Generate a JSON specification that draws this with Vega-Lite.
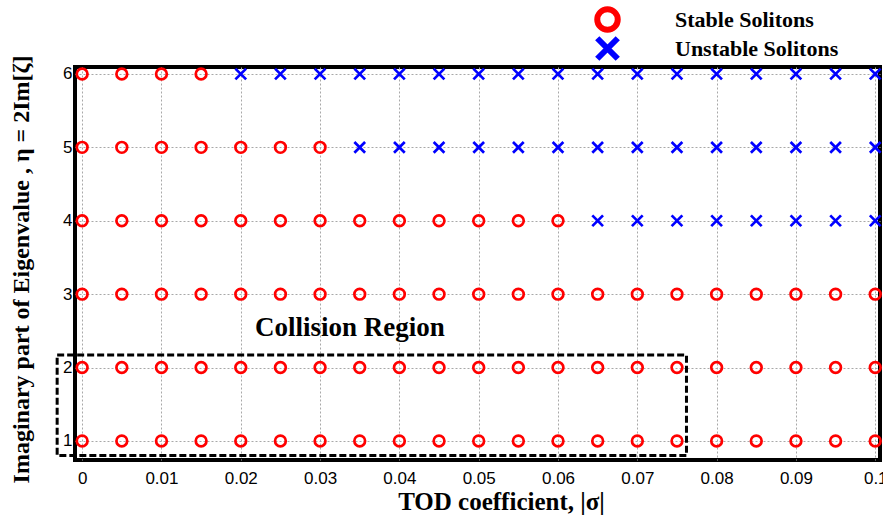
{
  "$schema": "https://vega.github.io/schema/vega-lite/v6.json",
  "width": 805,
  "height": 393,
  "autosize": {"type": "none"},
  "padding": {"left": 75, "top": 67, "right": 3, "bottom": 59},
  "background": "white",
  "config": {
    "view": {"stroke": "black", "strokeWidth": 4},
    "axis": {
      "grid": true,
      "gridDash": [2, 2],
      "gridColor": "#a8a8a8",
      "gridWidth": 1,
      "ticks": false,
      "domain": false,
      "labelFont": "Liberation Sans",
      "labelFontSize": 17,
      "labelColor": "black",
      "titleFont": "Liberation Serif",
      "titleFontWeight": "bold",
      "titleColor": "black"
    }
  },
  "layer": [
    {
      "data": {
        "values": [
          {"x": 0, "y": 6, "s": "S"}, {"x": 0.005, "y": 6, "s": "S"}, {"x": 0.01, "y": 6, "s": "S"}, {"x": 0.015, "y": 6, "s": "S"},
          {"x": 0.02, "y": 6, "s": "U"}, {"x": 0.025, "y": 6, "s": "U"}, {"x": 0.03, "y": 6, "s": "U"}, {"x": 0.035, "y": 6, "s": "U"},
          {"x": 0.04, "y": 6, "s": "U"}, {"x": 0.045, "y": 6, "s": "U"}, {"x": 0.05, "y": 6, "s": "U"}, {"x": 0.055, "y": 6, "s": "U"},
          {"x": 0.06, "y": 6, "s": "U"}, {"x": 0.065, "y": 6, "s": "U"}, {"x": 0.07, "y": 6, "s": "U"}, {"x": 0.075, "y": 6, "s": "U"},
          {"x": 0.08, "y": 6, "s": "U"}, {"x": 0.085, "y": 6, "s": "U"}, {"x": 0.09, "y": 6, "s": "U"}, {"x": 0.095, "y": 6, "s": "U"},
          {"x": 0.1, "y": 6, "s": "U"},
          {"x": 0, "y": 5, "s": "S"}, {"x": 0.005, "y": 5, "s": "S"}, {"x": 0.01, "y": 5, "s": "S"}, {"x": 0.015, "y": 5, "s": "S"},
          {"x": 0.02, "y": 5, "s": "S"}, {"x": 0.025, "y": 5, "s": "S"}, {"x": 0.03, "y": 5, "s": "S"}, {"x": 0.035, "y": 5, "s": "U"},
          {"x": 0.04, "y": 5, "s": "U"}, {"x": 0.045, "y": 5, "s": "U"}, {"x": 0.05, "y": 5, "s": "U"}, {"x": 0.055, "y": 5, "s": "U"},
          {"x": 0.06, "y": 5, "s": "U"}, {"x": 0.065, "y": 5, "s": "U"}, {"x": 0.07, "y": 5, "s": "U"}, {"x": 0.075, "y": 5, "s": "U"},
          {"x": 0.08, "y": 5, "s": "U"}, {"x": 0.085, "y": 5, "s": "U"}, {"x": 0.09, "y": 5, "s": "U"}, {"x": 0.095, "y": 5, "s": "U"},
          {"x": 0.1, "y": 5, "s": "U"},
          {"x": 0, "y": 4, "s": "S"}, {"x": 0.005, "y": 4, "s": "S"}, {"x": 0.01, "y": 4, "s": "S"}, {"x": 0.015, "y": 4, "s": "S"},
          {"x": 0.02, "y": 4, "s": "S"}, {"x": 0.025, "y": 4, "s": "S"}, {"x": 0.03, "y": 4, "s": "S"}, {"x": 0.035, "y": 4, "s": "S"},
          {"x": 0.04, "y": 4, "s": "S"}, {"x": 0.045, "y": 4, "s": "S"}, {"x": 0.05, "y": 4, "s": "S"}, {"x": 0.055, "y": 4, "s": "S"},
          {"x": 0.06, "y": 4, "s": "S"}, {"x": 0.065, "y": 4, "s": "U"}, {"x": 0.07, "y": 4, "s": "U"}, {"x": 0.075, "y": 4, "s": "U"},
          {"x": 0.08, "y": 4, "s": "U"}, {"x": 0.085, "y": 4, "s": "U"}, {"x": 0.09, "y": 4, "s": "U"}, {"x": 0.095, "y": 4, "s": "U"},
          {"x": 0.1, "y": 4, "s": "U"},
          {"x": 0, "y": 3, "s": "S"}, {"x": 0.005, "y": 3, "s": "S"}, {"x": 0.01, "y": 3, "s": "S"}, {"x": 0.015, "y": 3, "s": "S"},
          {"x": 0.02, "y": 3, "s": "S"}, {"x": 0.025, "y": 3, "s": "S"}, {"x": 0.03, "y": 3, "s": "S"}, {"x": 0.035, "y": 3, "s": "S"},
          {"x": 0.04, "y": 3, "s": "S"}, {"x": 0.045, "y": 3, "s": "S"}, {"x": 0.05, "y": 3, "s": "S"}, {"x": 0.055, "y": 3, "s": "S"},
          {"x": 0.06, "y": 3, "s": "S"}, {"x": 0.065, "y": 3, "s": "S"}, {"x": 0.07, "y": 3, "s": "S"}, {"x": 0.075, "y": 3, "s": "S"},
          {"x": 0.08, "y": 3, "s": "S"}, {"x": 0.085, "y": 3, "s": "S"}, {"x": 0.09, "y": 3, "s": "S"}, {"x": 0.095, "y": 3, "s": "S"},
          {"x": 0.1, "y": 3, "s": "S"},
          {"x": 0, "y": 2, "s": "S"}, {"x": 0.005, "y": 2, "s": "S"}, {"x": 0.01, "y": 2, "s": "S"}, {"x": 0.015, "y": 2, "s": "S"},
          {"x": 0.02, "y": 2, "s": "S"}, {"x": 0.025, "y": 2, "s": "S"}, {"x": 0.03, "y": 2, "s": "S"}, {"x": 0.035, "y": 2, "s": "S"},
          {"x": 0.04, "y": 2, "s": "S"}, {"x": 0.045, "y": 2, "s": "S"}, {"x": 0.05, "y": 2, "s": "S"}, {"x": 0.055, "y": 2, "s": "S"},
          {"x": 0.06, "y": 2, "s": "S"}, {"x": 0.065, "y": 2, "s": "S"}, {"x": 0.07, "y": 2, "s": "S"}, {"x": 0.075, "y": 2, "s": "S"},
          {"x": 0.08, "y": 2, "s": "S"}, {"x": 0.085, "y": 2, "s": "S"}, {"x": 0.09, "y": 2, "s": "S"}, {"x": 0.095, "y": 2, "s": "S"},
          {"x": 0.1, "y": 2, "s": "S"},
          {"x": 0, "y": 1, "s": "S"}, {"x": 0.005, "y": 1, "s": "S"}, {"x": 0.01, "y": 1, "s": "S"}, {"x": 0.015, "y": 1, "s": "S"},
          {"x": 0.02, "y": 1, "s": "S"}, {"x": 0.025, "y": 1, "s": "S"}, {"x": 0.03, "y": 1, "s": "S"}, {"x": 0.035, "y": 1, "s": "S"},
          {"x": 0.04, "y": 1, "s": "S"}, {"x": 0.045, "y": 1, "s": "S"}, {"x": 0.05, "y": 1, "s": "S"}, {"x": 0.055, "y": 1, "s": "S"},
          {"x": 0.06, "y": 1, "s": "S"}, {"x": 0.065, "y": 1, "s": "S"}, {"x": 0.07, "y": 1, "s": "S"}, {"x": 0.075, "y": 1, "s": "S"},
          {"x": 0.08, "y": 1, "s": "S"}, {"x": 0.085, "y": 1, "s": "S"}, {"x": 0.09, "y": 1, "s": "S"}, {"x": 0.095, "y": 1, "s": "S"},
          {"x": 0.1, "y": 1, "s": "S"}
        ]
      },
      "mark": {"type": "point", "filled": false, "strokeWidth": 2.7, "opacity": 1, "size": 115},
      "encoding": {
        "x": {
          "field": "x", "type": "quantitative",
          "scale": {"domain": [-0.0009, 0.1006], "nice": false, "zero": false},
          "axis": {
            "values": [0, 0.01, 0.02, 0.03, 0.04, 0.05, 0.06, 0.07, 0.08, 0.09, 0.1],
            "format": "~g",
            "labelPadding": 10,
            "title": "TOD coefficient, |σ|",
            "titleFontSize": 25,
            "titleX": 426,
            "titlePadding": 3
          }
        },
        "y": {
          "field": "y", "type": "quantitative",
          "scale": {"domain": [0.74, 6.095], "nice": false, "zero": false},
          "axis": {
            "values": [1, 2, 3, 4, 5, 6],
            "format": "d",
            "labelPadding": 3,
            "title": "Imaginary part of Eigenvalue , η = 2Im[ζ]",
            "titleFontSize": 24,
            "titleY": 202,
            "titlePadding": 29
          }
        },
        "color": {
          "field": "s", "type": "nominal",
          "scale": {"domain": ["S", "U"], "range": ["#ff0000", "#0000ff"]},
          "legend": {
            "title": null,
            "orient": "none",
            "legendX": 519,
            "legendY": -62,
            "labelExpr": "datum.label == 'S' ? 'Stable Solitons' : 'Unstable Solitons'",
            "labelFont": "Liberation Serif",
            "labelFontWeight": "bold",
            "labelFontSize": 22,
            "labelColor": "black",
            "labelLimit": 400,
            "labelOffset": 54,
            "symbolSize": 420,
            "symbolStrokeWidth": 6,
            "clipHeight": 29,
            "rowPadding": 0
          }
        },
        "shape": {
          "field": "s", "type": "nominal",
          "scale": {"domain": ["S", "U"], "range": ["circle", "M-1,-1L1,1M-1,1L1,-1"]}
        }
      }
    },
    {
      "data": {"values": [{"x1": -0.00315, "x2": 0.0762, "y1": 0.8, "y2": 2.17}]},
      "mark": {"type": "rect", "fill": null, "fillOpacity": 0, "stroke": "black", "strokeWidth": 3, "strokeDash": [7, 3]},
      "encoding": {
        "x": {"field": "x1", "type": "quantitative"},
        "x2": {"field": "x2"},
        "y": {"field": "y1", "type": "quantitative"},
        "y2": {"field": "y2"}
      }
    },
    {
      "data": {"values": [{"x": 0.0218, "y": 2.54, "t": "Collision Region"}]},
      "mark": {"type": "text", "align": "left", "baseline": "middle", "font": "Liberation Serif", "fontWeight": "bold", "fontSize": 27, "color": "black"},
      "encoding": {
        "x": {"field": "x", "type": "quantitative"},
        "y": {"field": "y", "type": "quantitative"},
        "text": {"field": "t"}
      }
    }
  ]
}
